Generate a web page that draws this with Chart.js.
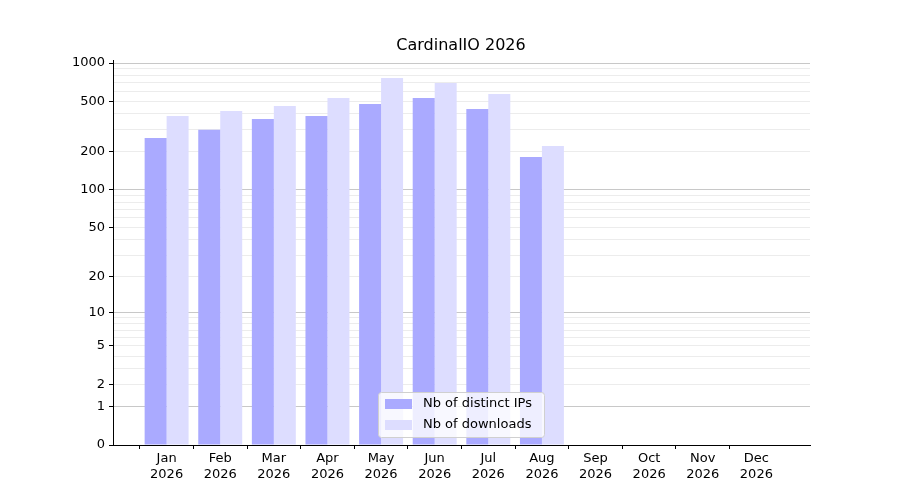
<!DOCTYPE html>
<html>
<head>
<meta charset="utf-8">
<script src="https://cdn.jsdelivr.net/npm/chart.js@4"></script>
<style>
  html, body { margin: 0; padding: 0; background: #fff; }
  #wrap { width: 900px; height: 500px; }
</style>
</head>
<body>
<div id="wrap"><canvas id="chart" width="900" height="500"></canvas></div>
<script>
// Data
const months = ['Jan', 'Feb', 'Mar', 'Apr', 'May', 'Jun', 'Jul', 'Aug', 'Sep', 'Oct', 'Nov', 'Dec'];
const year = '2026';
const distinctIPs = [257, 298, 363, 383, 477, 531, 435, 182, null, null, null, null];
const downloads = [383, 420, 460, 531, 763, 697, 571, 222, null, null, null, null];
const yTickLabels = [0, 1, 2, 5, 10, 20, 50, 100, 200, 500, 1000];

// y axis is log10(1 + v)
function tf(v) { return v == null ? null : Math.log10(1 + v); }
function inv(t) { return Math.round(Math.pow(10, t) - 1); }

const minorVals = [0];
[1, 10, 100, 1000].forEach(function (d) {
    for (let k = 1; k <= 9; k++) { if (d * k <= 1000) minorVals.push(d * k); }
});

const labels = [''].concat(months.map(m => [m, year])).concat(['']);
const pad = a => [null].concat(a.map(tf)).concat([null]);

const overlay = {
    id: 'overlay',
    afterDraw(chart) {
        const c = chart.ctx;
        c.save();
        c.fillStyle = '#000';
        c.font = '16px "DejaVu Sans"';
        c.textAlign = 'center';
        c.textBaseline = 'middle';
        c.fillText('CardinalIO 2026', 461, 46);
        // legend box
        c.fillStyle = 'rgba(255,255,255,0.8)';
        c.strokeStyle = '#d0d0d0';
        c.lineWidth = 1;
        c.beginPath();
        c.roundRect(378.5, 392.5, 166, 45, 3);
        c.fill(); c.stroke();
        const items = [['Nb of distinct IPs', '#aaaaff'], ['Nb of downloads', '#ddddff']];
        c.font = '13px "DejaVu Sans"';
        c.textAlign = 'left';
        items.forEach(function (it, i) {
            const y = 404 + i * 21;
            c.fillStyle = it[1];
            c.fillRect(385, y - 5, 27, 10);
            c.fillStyle = '#000';
            c.fillText(it[0], 423, y);
        });
        c.restore();
    }
};

new Chart(document.getElementById('chart'), {
    type: 'bar',
    data: {
        labels: labels,
        datasets: [
            { label: 'Nb of distinct IPs', data: pad(distinctIPs), backgroundColor: '#aaaaff' },
            { label: 'Nb of downloads', data: pad(downloads), backgroundColor: '#ddddff' }
        ]
    },
    options: {
        responsive: false,
        animation: false,
        layout: { padding: { top: 60, right: 90, left: 0, bottom: 0 } },
        datasets: { bar: { categoryPercentage: 0.82, barPercentage: 1.0 } },
        plugins: { legend: { display: false }, title: { display: false }, tooltip: { enabled: false } },
        scales: {
            x: {
                offset: false,
                afterFit(s) { s.height = 55; },
                grid: {
                    drawOnChartArea: false,
                    color: ctx => (ctx.index === 0 || ctx.index === labels.length - 1) ? 'rgba(0,0,0,0)' : '#000',
                    tickLength: 4
                },
                border: { color: '#000' },
                ticks: { color: '#000', font: { family: 'DejaVu Sans', size: 13 }, maxRotation: 0, autoSkip: false, padding: 2 }
            },
            y: {
                min: 0,
                max: tf(1056),
                afterFit(s) { s.width = 113; },
                afterBuildTicks(s) { s.ticks = minorVals.map(v => ({ value: tf(v) })); },
                border: { color: '#000' },
                grid: {
                    color(ctx) {
                        const v = inv(ctx.tick.value);
                        if (v === 0) return 'rgba(0,0,0,0)';
                        if ([1, 10, 100, 1000].includes(v)) return '#c8c8c8';
                        return '#ececec';
                    },
                    tickColor(ctx) {
                        const v = inv(ctx.tick.value);
                        return yTickLabels.includes(v) ? '#000' : 'rgba(0,0,0,0)';
                    },
                    tickLength: 4
                },
                ticks: {
                    color: '#000',
                    font: { family: 'DejaVu Sans', size: 13 },
                    autoSkip: false,
                    padding: 4,
                    callback(value) {
                        const v = inv(value);
                        return yTickLabels.includes(v) ? String(v) : '';
                    }
                }
            }
        }
    },
    plugins: [overlay]
});
</script>
</body>
</html>
